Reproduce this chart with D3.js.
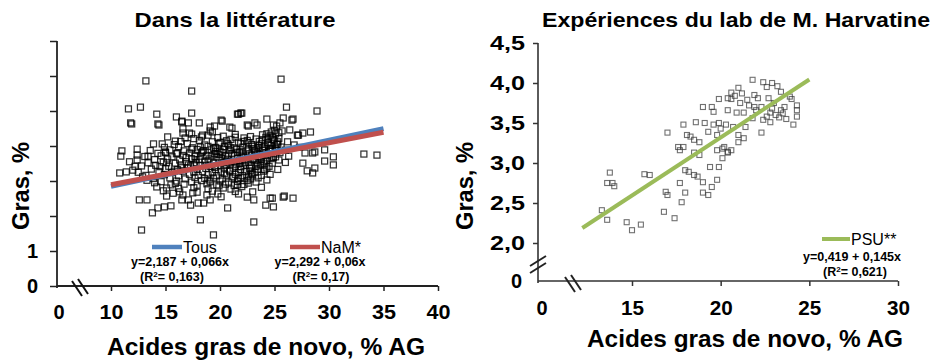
<!DOCTYPE html>
<html>
<head>
<meta charset="utf-8">
<script src="https://cdn.jsdelivr.net/npm/d3@7"></script>
<style>
  body { margin: 0; background: #fff; }
  text { font-family: "Liberation Sans", Arial, sans-serif; font-weight: bold; fill: #000; }
</style>
</head>
<body>
<svg id="chart" width="950" height="360"></svg>
<script>

// ---- data ----
var litTicksX = [10, 15, 20, 25, 30, 35, 40];
var litTicksY = [0, 1, 2, 3, 4, 5, 6, 7];
var litLabelsY = {0: "0", 1: "1"};   // the other y labels are blank in the original

var psuTicksX = [15, 20, 25, 30];
var psuTicksY = [2.0, 2.5, 3.0, 3.5, 4.0, 4.5];

// regression lines: intercept, slope, x range
var tousFit = {a: 2.187, b: 0.066, from: 10, to: 35};
var namFit = {a: 2.292, b: 0.06, from: 10, to: 35};
var psuFit = {a: 0.419, b: 0.145, from: 12.2, to: 25};

// literature points [AG de novo %, gras %]
var litPoints = [
  [13.2,5.86],[17.4,5.57],[25.6,5.91],[11.6,5.06],[12.7,5.11],[14.2,4.91],[17.4,4.94],[21.6,4.91],[21.9,4.94],[26.1,5.11],
  [28.9,5.0],[11.9,4.63],[14.4,4.6],[16.0,4.83],[16.5,4.71],[17.1,4.66],[18.1,4.66],[20.1,4.74],[24.3,4.77],[26.7,4.77],
  [28.3,4.4],[27.6,4.37],[33.2,3.77],[34.4,3.74],[30.4,3.69],[30.4,3.46],[29.6,3.57],[28.5,3.8],[27.6,3.51],[28.5,3.23],
  [10.9,3.71],[11.0,3.86],[12.4,3.91],[10.8,3.23],[11.4,3.26],[12.0,3.31],[13.9,4.06],[14.7,4.06],[15.2,4.26],[16.6,4.37],
  [17.2,4.37],[18.4,4.31],[19.1,4.43],[19.5,4.57],[20.9,4.54],[22.6,4.57],[23.4,4.6],[25.2,4.57],[25.7,4.43],[26.4,4.46],
  [27.1,4.31],[11.8,4.66],[14.3,4.63],[16.5,4.69],[19.1,4.54],[20.2,4.71],[21.7,4.91],[21.1,4.51],[16.6,4.49],[17.4,4.34],
  [15.9,4.14],[16.8,4.23],[18.3,4.26],[19.3,4.4],[12.4,3.74],[13.4,3.71],[15.0,3.83],[16.1,3.8],[17.4,3.91],[18.2,3.97],
  [22.0,4.94],[22.5,4.6],[23.2,4.66],[24.9,4.6],[25.5,4.66],[26.6,4.74],[25.8,4.8],[27.2,4.31],[27.8,3.8],[28.7,3.83],
  [29.6,3.89],[28.0,3.29],[28.7,3.37],[23.0,2.69],
  [12.8,1.6],[19.4,1.46],[18.2,1.89],[23.1,1.83],[20.7,2.23],[12.6,2.46],[13.3,2.46],[13.8,2.09],[14.3,2.23],[14.9,2.26],
  [15.5,2.29],[25.9,2.57],[26.7,2.51],[24.9,2.26],[24.2,2.31],[24.6,2.51],[23.1,2.46],[22.5,2.54],[21.7,2.63],[19.8,2.63],
  [19.1,2.46],[18.5,2.37],[18.0,2.37],[17.3,2.31],[17.1,2.46],[16.5,2.46],[15.1,2.57],[14.2,2.83],[15.1,2.8],[16.3,2.69],
  [17.5,2.66],[18.8,2.6],[21.6,2.89],[22.6,2.94],[24.3,3.03],[24.8,2.51],[25.8,2.54],
  [14.8,2.72],[15.7,2.65],[16.6,2.6],[17.9,2.68],[19.3,2.71],[20.1,2.55],[21.4,2.7],[22.0,2.84],[19.9,2.86],[15.9,2.93],
  [14.0,2.95],[13.3,3.02],[12.9,3.12],[12.2,3.42],[11.7,3.55],[12.4,3.6],
  [18.9,4.31],[20.3,4.28],[21.4,4.33],[22.8,4.27],[23.9,4.32],[24.6,4.29],[25.1,4.35],
  [17.6,4.21],[19.8,4.24],[21.0,4.19],[22.2,4.23],[23.3,4.2],[24.2,4.25],[24.9,4.18],[25.4,4.22],
  [16.4,4.13],[18.1,4.16],[19.3,4.12],[20.6,4.15],[21.7,4.11],[22.5,4.16],[23.6,4.13],[24.4,4.1],[25.0,4.15],[26.2,4.12],
  [15.8,4.04],[17.0,4.07],[18.6,4.03],[19.9,4.06],[20.8,4.02],[21.9,4.07],[22.9,4.04],[23.8,4.06],[24.5,4.02],[25.3,4.05],[26.8,4.03],
  [14.9,3.96],[16.2,3.98],[17.5,3.95],[18.9,3.99],[19.6,3.96],[20.4,3.98],[21.3,3.94],[22.1,3.97],[23.0,3.99],[23.5,3.95],[24.1,3.98],[24.8,3.94],[25.6,3.97],[27.3,3.96],
  [13.6,3.87],[15.4,3.89],[16.7,3.86],[17.9,3.9],[18.5,3.87],[19.2,3.89],[20.0,3.85],[20.9,3.88],[21.5,3.9],[22.4,3.86],[23.2,3.89],[23.9,3.87],[24.6,3.9],[25.2,3.86],[26.0,3.88],
  [14.3,3.79],[15.0,3.81],[16.0,3.78],[17.2,3.8],[18.3,3.82],[19.5,3.78],[20.2,3.81],[21.1,3.79],[21.8,3.82],[22.7,3.78],[23.4,3.8],[24.2,3.81],[24.9,3.78],[25.5,3.81],
  [13.1,3.7],[14.6,3.72],[15.6,3.69],[16.6,3.73],[17.7,3.7],[18.8,3.72],[19.7,3.69],[20.5,3.71],[21.3,3.73],[22.0,3.69],[22.9,3.72],[23.6,3.7],[24.4,3.73],[25.1,3.69],[26.3,3.71],
  [14.0,3.61],[15.2,3.63],[16.3,3.6],[17.4,3.64],[18.1,3.61],[19.0,3.63],[19.9,3.6],[20.7,3.62],[21.6,3.64],[22.3,3.6],[23.1,3.63],[23.8,3.61],[24.7,3.64],[25.4,3.6],
  [13.4,3.52],[14.8,3.54],[15.9,3.51],[16.9,3.55],[17.8,3.52],[18.6,3.54],[19.4,3.51],[20.3,3.53],[21.0,3.55],[21.8,3.51],[22.6,3.54],[23.3,3.52],[24.0,3.55],[24.8,3.51],[26.0,3.53],
  [12.8,3.43],[14.1,3.45],[15.3,3.42],[16.4,3.46],[17.3,3.43],[18.2,3.45],[19.1,3.42],[19.8,3.44],[20.6,3.46],[21.4,3.42],[22.2,3.45],[22.9,3.43],[23.7,3.46],[24.5,3.42],
  [13.7,3.34],[15.0,3.36],[16.1,3.33],[17.0,3.37],[17.9,3.34],[18.7,3.36],[19.6,3.33],[20.4,3.35],[21.2,3.37],[21.9,3.33],[22.7,3.36],[23.5,3.34],[24.3,3.37],[25.3,3.33],
  [12.5,3.25],[14.4,3.27],[15.6,3.24],[16.6,3.28],[17.6,3.25],[18.4,3.27],[19.3,3.24],[20.1,3.26],[20.9,3.28],[21.7,3.24],[22.4,3.27],[23.2,3.25],[24.0,3.28],
  [13.2,3.16],[14.9,3.18],[16.2,3.15],[17.2,3.19],[18.0,3.16],[18.9,3.18],[19.7,3.15],[20.6,3.17],[21.4,3.19],[22.1,3.15],[23.0,3.18],[23.8,3.16],[24.6,3.19],
  [13.9,3.07],[15.4,3.09],[16.8,3.06],[17.7,3.1],[18.6,3.07],[19.4,3.09],[20.2,3.06],[21.1,3.08],[21.9,3.1],[22.8,3.06],[23.5,3.09],
  [14.6,2.98],[16.0,3.0],[17.4,2.97],[18.3,3.01],[19.1,2.98],[20.0,3.0],[20.8,2.97],[21.6,2.99],[22.5,3.01],[23.3,2.97],
  [15.5,2.89],[16.7,2.91],[17.9,2.88],[18.8,2.92],[19.7,2.89],[20.5,2.91],[21.3,2.88],[22.2,2.9],
  [16.2,2.79],[17.6,2.81],[18.9,2.78],[20.3,2.8],[21.0,2.77],[23.8,2.82],
  [24.7,4.4],[25.0,4.45],[24.8,4.25],[25.2,4.05],[24.6,3.92],[25.4,4.38],[24.3,4.35],
  [19.9,3.76],[20.6,3.57],[21.5,3.48],[22.5,3.66],[23.3,3.41],[20.9,3.31],[22.0,3.85],[23.6,3.76],[21.8,3.58],[20.3,3.9],
  [19.5,3.39],[22.9,3.21],[21.2,3.12],[24.1,3.49],[23.1,3.93],[18.9,3.58],[17.6,3.48],[16.9,3.67],[18.4,3.83],[20.0,4.1],
  [22.6,4.09],[23.9,4.18],[21.4,4.25],
  [19.2,3.71],[19.6,3.84],[20.1,3.66],[20.5,3.45],[20.8,3.74],[21.0,3.95],[21.3,3.56],[21.6,3.82],[21.9,3.41],[22.1,3.74],
  [22.3,3.52],[22.6,3.91],[22.8,3.29],[23.0,3.62],[23.2,3.85],[23.4,3.46],[23.7,3.68],[23.9,3.94],[24.1,3.32],[24.3,3.59],
  [24.5,3.86],[24.7,4.02],[24.9,3.67],[25.1,3.92],[25.3,4.12],[24.4,4.21],[23.6,4.01],[22.2,4.13],[20.7,4.07],[19.4,3.93],
  [18.7,3.44],[18.2,3.71],[17.8,3.61],[17.1,3.46],[16.5,3.38],[15.8,3.28],[15.1,3.52],[14.5,3.41],[20.4,3.22],[21.7,3.07],
  [22.6,3.14],[19.0,3.03]
];

// PSU lab points
var psuPoints = [
  [21.8,4.04],[22.4,4.01],[22.6,3.95],[23.2,3.96],[23.4,3.89],[20.4,3.81],[20.6,3.88],[21.0,3.94],[19.9,3.8],[21.1,3.75],
  [21.5,3.79],[21.9,3.85],[22.1,3.81],[22.7,3.81],[24.0,3.8],[22.3,3.7],[21.9,3.7],[23.0,3.75],[23.4,3.66],[23.6,3.7],
  [24.3,3.66],[24.3,3.58],[24.1,3.48],[19.0,3.7],[19.5,3.7],[19.6,3.64],[20.4,3.66],[20.9,3.63],[21.3,3.63],[22.8,3.63],
  [23.1,3.6],[22.6,3.58],[22.4,3.54],[22.8,3.51],[18.6,3.51],[17.9,3.48],[19.1,3.5],[19.6,3.48],[19.9,3.5],[20.3,3.48],
  [20.7,3.45],[21.4,3.45],[22.3,3.38],[17.0,3.38],[18.1,3.35],[19.3,3.39],[19.8,3.35],[21.0,3.35],[21.3,3.31],[21.0,3.26],
  [18.5,3.29],[18.3,3.33],[18.8,3.26],[17.6,3.2],[17.9,3.2],[19.8,3.16],[20.4,3.14],[20.6,3.16],[18.8,3.1],[18.5,3.13],
  [13.75,2.88],[13.6,2.75],[13.9,2.75],[14.0,2.71],[15.7,2.86],[16.0,2.85],[13.3,2.41],[13.6,2.29],[14.7,2.26],[15.0,2.16],
  [15.5,2.23],[16.9,2.64],[17.0,2.6],[16.8,2.39],[17.4,2.31],[17.7,2.75],[18.0,2.63],[17.8,2.51],[18.0,2.91],[18.2,2.89],
  [18.5,2.85],[18.7,2.83],[19.0,2.76],[19.0,2.63],[19.3,2.6],[19.5,2.7],[19.8,2.79],[19.4,2.95],[19.9,2.95],[20.1,3.06],
  [20.4,3.13],[17.7,3.16],[20.8,3.84],[21.2,3.87],[20.6,3.8],[21.6,3.72],[23.3,3.57],[23.5,3.62],[23.7,3.55],[22.9,3.68],
  [20.0,3.43],[20.2,3.2],[20.1,3.18],[21.8,3.56],[22.0,3.66],[24.3,3.72],[23.9,3.83],[22.9,4.0]
];

var svg = d3.select("#chart");
var comma = function (d) { return d.toFixed(1).replace(".", ","); };

// stretch text horizontally like in the original slide
function widen(sel, w) {
  sel.attr("textLength", w).attr("lengthAdjust", "spacingAndGlyphs");
}

function styleAxis(g, color) {
  g.select(".domain").remove();
  g.selectAll(".tick line").attr("stroke", color).attr("stroke-width", 1.5);
  g.selectAll(".tick text").style("font-family", "'Liberation Sans', Arial, sans-serif")
    .style("font-weight", "bold").attr("fill", "#000");
}

function fitLine(fit, x, y, color, width) {
  var line = d3.line().x(function (d) { return x(d); }).y(function (d) { return y(fit.a + fit.b * d); });
  svg.append("path").datum([fit.from, fit.to])
    .attr("d", line).attr("stroke", color).attr("stroke-width", width).attr("fill", "none");
}

function breakMarks(pairs, color) {
  svg.selectAll(null).data(pairs).enter().append("line")
    .attr("x1", function (d) { return d[0]; }).attr("y1", function (d) { return d[1]; })
    .attr("x2", function (d) { return d[2]; }).attr("y2", function (d) { return d[3]; })
    .attr("stroke", color).attr("stroke-width", 2);
}

// ================= left panel : literature =================
var lx = d3.scaleLinear().domain([10, 40]).range([111, 438]);
var ly = d3.scaleLinear().domain([0, 7]).range([286, 41]);
var lOrigin = 57;

svg.append("text").attr("x", 235).attr("y", 27).attr("text-anchor", "middle")
  .style("font-size", "21px").text("Dans la littérature").call(widen, 201);

svg.append("g").selectAll("rect").data(litPoints).enter().append("rect")
  .attr("x", function (d) { return lx(d[0]) - 3; })
  .attr("y", function (d) { return ly(d[1]) - 3; })
  .attr("width", 6).attr("height", 6)
  .attr("fill", "none").attr("stroke", "#000").attr("stroke-opacity", 0.8).attr("stroke-width", 1.25);

fitLine(tousFit, lx, ly, "#4F81BD", 5);
fitLine(namFit, lx, ly, "#C0504D", 5);

// axes
svg.append("line").attr("x1", lOrigin).attr("x2", lOrigin).attr("y1", ly(7)).attr("y2", 288)
  .attr("stroke", "#222").attr("stroke-width", 1.8);
svg.append("line").attr("x1", lOrigin).attr("x2", lx(40)).attr("y1", ly(0)).attr("y2", ly(0))
  .attr("stroke", "#222").attr("stroke-width", 1.8);

var lyAxis = svg.append("g").attr("transform", "translate(" + lOrigin + ",0)")
  .call(d3.axisLeft(ly).tickValues(litTicksY).tickSize(7).tickPadding(12)
    .tickFormat(function (d) { return litLabelsY[d] || ""; }));
styleAxis(lyAxis, "#222");
lyAxis.selectAll(".tick text").style("font-size", "20px");

var lxAxis = svg.append("g").attr("transform", "translate(0," + ly(0) + ")")
  .call(d3.axisBottom(lx).tickValues(litTicksX).tickSize(5).tickPadding(14));
styleAxis(lxAxis, "#222");
lxAxis.selectAll(".tick text").style("font-size", "20px").call(widen, 24);
svg.append("text").attr("x", 59).attr("y", 319).attr("text-anchor", "middle")
  .style("font-size", "20px").text("0");

breakMarks([[72, 281, 82, 296], [78, 279, 88, 294]], "#111");

svg.append("text").attr("x", 266).attr("y", 355).attr("text-anchor", "middle")
  .style("font-size", "23px").text("Acides gras de novo, % AG").call(widen, 318);
svg.append("text").attr("transform", "translate(29,186) rotate(-90)").attr("text-anchor", "middle")
  .style("font-size", "23px").text("Gras, %").call(widen, 88);

// legend
var legL = [
  {name: "Tous", color: "#4F81BD", x: 152, eq: "y=2,187 + 0,066x", r2: "0,163", ex: 180, rx: 172},
  {name: "NaM*", color: "#C0504D", x: 290, eq: "y=2,292 + 0,06x", r2: "0,17", ex: 320, rx: 321}
];
legL.forEach(function (l) {
  svg.append("line").attr("x1", l.x).attr("x2", l.x + 30).attr("y1", 247).attr("y2", 247)
    .attr("stroke", l.color).attr("stroke-width", 4.5);
  svg.append("text").attr("x", l.x + 31).attr("y", 253).style("font-weight", "normal")
    .style("font-size", "16px").text(l.name);
  svg.append("text").attr("x", l.ex).attr("y", 266).attr("text-anchor", "middle")
    .style("font-size", "12.5px").text(l.eq);
  var r = svg.append("text").attr("x", l.rx).attr("y", 281).attr("text-anchor", "middle").style("font-size", "12.5px");
  r.append("tspan").text("(R");
  r.append("tspan").attr("dy", -4).style("font-size", "8px").text("2");
  r.append("tspan").attr("dy", 4).text("= " + l.r2 + ")");
});

// ================= right panel : PSU lab =================
var rx = d3.scaleLinear().domain([15, 30]).range([632, 898]);
var ry = d3.scaleLinear().domain([2, 4.5]).range([243, 43]);
var rOrigin = 538, rZeroY = 281;

svg.append("text").attr("x", 736).attr("y", 27).attr("text-anchor", "middle")
  .style("font-size", "21px").text("Expériences du lab de M. Harvatine").call(widen, 388);

svg.append("g").selectAll("rect").data(psuPoints).enter().append("rect")
  .attr("x", function (d) { return rx(d[0]) - 2.5; })
  .attr("y", function (d) { return ry(d[1]) - 2.5; })
  .attr("width", 5).attr("height", 5)
  .attr("fill", "none").attr("stroke", "#333").attr("stroke-opacity", 0.7).attr("stroke-width", 1.1);

fitLine(psuFit, rx, ry, "#9BBB59", 4);

svg.append("line").attr("x1", rOrigin).attr("x2", rOrigin).attr("y1", ry(4.5)).attr("y2", rZeroY + 2)
  .attr("stroke", "#333").attr("stroke-width", 1.6);
svg.append("line").attr("x1", rOrigin).attr("x2", rx(30)).attr("y1", rZeroY).attr("y2", rZeroY)
  .attr("stroke", "#333").attr("stroke-width", 1.6);

var ryAxis = svg.append("g").attr("transform", "translate(" + rOrigin + ",0)")
  .call(d3.axisLeft(ry).tickValues(psuTicksY).tickSize(5).tickPadding(8).tickFormat(comma));
styleAxis(ryAxis, "#333");
ryAxis.selectAll(".tick text").style("font-size", "20px").call(widen, 35);
svg.append("text").attr("x", 522).attr("y", rZeroY + 7).attr("text-anchor", "end")
  .style("font-size", "20px").text("0");

var rxAxis = svg.append("g").attr("transform", "translate(0," + rZeroY + ")")
  .call(d3.axisBottom(rx).tickValues(psuTicksX).tickSize(5).tickPadding(15));
styleAxis(rxAxis, "#333");
rxAxis.selectAll(".tick text").style("font-size", "20px").call(widen, 23);
svg.append("text").attr("x", 542).attr("y", 315).attr("text-anchor", "middle")
  .style("font-size", "20px").text("0");

breakMarks([[530, 266, 546, 256], [530, 273, 546, 263]], "#222");
breakMarks([[565, 277, 575, 292], [571, 275, 581, 290]], "#222");

svg.append("text").attr("x", 745).attr("y", 347).attr("text-anchor", "middle")
  .style("font-size", "23px").text("Acides gras de novo, % AG").call(widen, 316);
svg.append("text").attr("transform", "translate(473,186) rotate(-90)").attr("text-anchor", "middle")
  .style("font-size", "23px").text("Gras, %").call(widen, 88);

// legend
svg.append("line").attr("x1", 822).attr("x2", 850).attr("y1", 239).attr("y2", 239)
  .attr("stroke", "#9BBB59").attr("stroke-width", 4);
svg.append("text").attr("x", 851).attr("y", 245).style("font-weight", "normal")
  .style("font-size", "16px").text("PSU**");
svg.append("text").attr("x", 852).attr("y", 261).attr("text-anchor", "middle")
  .style("font-size", "12.5px").text("y=0,419 + 0,145x");
var r3 = svg.append("text").attr("x", 855).attr("y", 276).attr("text-anchor", "middle").style("font-size", "12.5px");
r3.append("tspan").text("(R");
r3.append("tspan").attr("dy", -4).style("font-size", "8px").text("2");
r3.append("tspan").attr("dy", 4).text("= 0,621)");

</script>
</body>
</html>
